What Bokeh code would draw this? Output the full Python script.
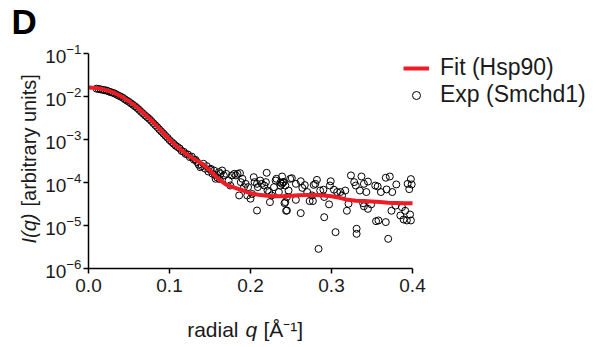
import numpy as np
from bokeh.plotting import figure
from bokeh.models import (FixedTicker, PrintfTickFormatter, LogTickFormatter, Legend,
                          LegendItem, Label, ColumnDataSource, LinearAxis, LogAxis)
from bokeh.embed import file_html
from bokeh.resources import INLINE

# ---- data ----
fit_q = [0.0, 0.01, 0.02, 0.03, 0.04, 0.05, 0.06, 0.07, 0.08, 0.09, 0.10, 0.11, 0.12,
         0.13, 0.14, 0.15, 0.16, 0.17, 0.18, 0.19, 0.20, 0.21, 0.22, 0.23, 0.24, 0.25,
         0.26, 0.27, 0.28, 0.29, 0.30, 0.31, 0.32, 0.33, 0.34, 0.35, 0.36, 0.37, 0.38,
         0.39, 0.40]
fit_I = [0.0162, 0.0158, 0.0145, 0.0126, 0.0102, 0.00776, 0.00562, 0.0038, 0.00251,
         0.00158, 0.001, 6.6e-4, 4.7e-4, 3.55e-4, 2.75e-4, 1.9e-4, 1.23e-4, 8.9e-5,
         7.6e-5, 6.6e-5, 5.6e-5, 5.2e-5, 4.9e-5, 4.8e-5, 4.8e-5, 4.95e-5, 5.05e-5,
         5.15e-5, 5.15e-5, 5.0e-5, 4.8e-5, 4.4e-5, 3.95e-5, 3.75e-5, 3.7e-5, 3.6e-5,
         3.5e-5, 3.4e-5, 3.35e-5, 3.3e-5, 3.3e-5]

exp_q_low = [0.010, 0.0125, 0.015, 0.0175, 0.020, 0.0225, 0.025, 0.0275, 0.030, 0.0325,
             0.035, 0.0375, 0.040, 0.0425, 0.045, 0.0475, 0.050, 0.0525, 0.055, 0.0575,
             0.060, 0.0625, 0.065, 0.0675, 0.070, 0.0725, 0.075, 0.0775, 0.080, 0.0825,
             0.085, 0.0875, 0.090, 0.0925, 0.095, 0.0975, 0.100, 0.1025, 0.105, 0.1075,
             0.110, 0.1125, 0.115, 0.1175, 0.120, 0.1225, 0.125, 0.1275, 0.130, 0.134,
             0.136, 0.140, 0.144, 0.146, 0.148, 0.150, 0.153, 0.156, 0.159, 0.162]
exp_I_low = [0.0152, 0.0150, 0.0146, 0.0143, 0.0140, 0.0137, 0.0131, 0.0126, 0.0122,
             0.0117, 0.0110, 0.0104, 0.0099, 0.0093, 0.0086, 0.0080, 0.0075, 0.0069,
             0.0064, 0.0059, 0.0054, 0.0049, 0.0044, 0.0040, 0.0036, 0.0033, 0.0030,
             0.0027, 0.0024, 0.00215, 0.00193, 0.00171, 0.00153, 0.00137, 0.00122,
             0.00110, 0.00097, 0.00088, 0.00080, 0.00072, 0.00067, 0.00062, 0.00054,
             0.00052, 0.00046, 0.00045, 0.00039, 0.00040, 0.00034, 0.00030, 0.00026,
             0.00024, 0.00021, 0.00024, 0.00018, 0.00020, 0.00016, 0.00015, 0.00013,
             0.00012]

exp_q_mid = [0.132, 0.138, 0.142, 0.151, 0.155, 0.157, 0.161, 0.163, 0.165, 0.167,
             0.170, 0.173, 0.175, 0.177, 0.180, 0.182, 0.184, 0.187, 0.188, 0.190,
             0.192, 0.194, 0.197, 0.186, 0.196, 0.200, 0.202, 0.204, 0.205, 0.208,
             0.208, 0.209, 0.212, 0.214, 0.217, 0.219, 0.220, 0.221, 0.223, 0.224,
             0.226, 0.229, 0.231, 0.232, 0.235, 0.237, 0.239, 0.241, 0.243, 0.245,
             0.247, 0.249]
exp_I_mid = [3.37e-4, 2.27e-4, 2.72e-4, 2.08e-4, 1.90e-4, 1.22e-4, 1.74e-4, 1.59e-4,
             1.90e-4, 1.46e-4, 1.59e-4, 1.11e-4, 8.5e-5, 1.46e-4, 1.59e-4, 1.46e-4,
             1.59e-4, 1.65e-4, 1.02e-4, 1.22e-4, 7.8e-5, 9.3e-5, 7.8e-5, 5.0e-5, 5.0e-5,
             4.2e-5, 5.4e-5, 1.33e-4, 1.02e-4, 9.3e-5, 2.23e-5, 7.8e-5, 1.11e-4, 9.3e-5,
             8.5e-5, 1.02e-4, 1.68e-4, 6.5e-5, 6.0e-5, 3.5e-5, 5.0e-5, 7.8e-5, 1.11e-4,
             1.22e-4, 6.0e-5, 8.5e-5, 9.3e-5, 1.02e-4, 3.5e-5, 2.23e-5, 6.5e-5, 1.22e-4]

exp_q_high = [0.239, 0.240, 0.243, 0.251, 0.256, 0.262, 0.267, 0.264, 0.245, 0.242,
              0.244, 0.256, 0.262, 0.270, 0.276, 0.273, 0.277, 0.280, 0.282, 0.286,
              0.290, 0.291, 0.297, 0.299, 0.298, 0.303, 0.305, 0.307, 0.311, 0.313,
              0.317, 0.319, 0.321, 0.324, 0.328, 0.330, 0.331, 0.331, 0.335, 0.337,
              0.340, 0.345, 0.343, 0.339, 0.345, 0.349, 0.354, 0.357, 0.361, 0.355,
              0.358, 0.367, 0.367, 0.368, 0.370, 0.372, 0.375, 0.374, 0.379, 0.380,
              0.385, 0.387, 0.389, 0.391, 0.393, 0.394, 0.397, 0.399, 0.398, 0.284,
              0.278, 0.291, 0.340, 0.237, 0.398, 0.396]
exp_I_high = [1.38e-4, 1.02e-4, 8.5e-5, 1.26e-4, 9.3e-5, 1.07e-4, 8.7e-5, 7.5e-5, 4.6e-5,
              3.3e-5, 2.2e-5, 3.95e-5, 1.94e-5, 6.0e-5, 5.0e-5, 3.7e-5, 3.7e-5, 9.3e-5,
              1.15e-4, 6.5e-5, 6.8e-5, 1.56e-5, 3.1e-5, 1.07e-4, 8.5e-5, 6.8e-5, 7.0e-6,
              6.0e-5, 6.0e-5, 5.0e-5, 6.5e-5, 2.2e-5, 3.2e-5, 1.46e-4, 1.02e-4, 8.5e-5,
              8.4e-6, 6.4e-6, 6.5e-5, 1.38e-4, 9.3e-5, 1.05e-4, 6.0e-5, 3.3e-5, 2.44e-5,
              3.1e-5, 8.5e-5, 8.1e-5, 6.0e-5, 1.26e-5, 1.31e-5, 1.29e-4, 1.2e-5, 6.9e-5,
              4.9e-6, 1.38e-4, 6.0e-5, 2.2e-5, 2.9e-5, 9.0e-5, 1.71e-5, 2.67e-5, 1.38e-5,
              2.2e-5, 1.31e-5, 9.3e-5, 1.8e-5, 9.0e-5, 1.31e-5, 2.86e-6, 8.8e-5, 4.6e-5,
              2.8e-5, 1.0e-4, 1.2e-4, 7.0e-5]

x_ticks = [0.0, 0.1, 0.2, 0.3, 0.4]
y_ticks = [1e-6, 1e-5, 1e-4, 1e-3, 1e-2, 1e-1]

FONT = "Liberation Sans"
TXT = "#1a1a1a"

exp_src = ColumnDataSource(dict(q=exp_q_low + exp_q_mid + exp_q_high,
                                I=exp_I_low + exp_I_mid + exp_I_high))
fit_src = ColumnDataSource(dict(q=fit_q, I=fit_I))

# the frame covers the whole canvas, axes are pinned with fixed_location
W, H = 597, 347
X0, PX_PER_Q = 88, 810.0          # canvas pixel of q=0, pixels per unit q
Y_DEC, PX_PER_DEC = 268, 43.0     # canvas pixel of 1e-6, pixels per decade
x_range = ((0 - X0) / PX_PER_Q, (W - X0) / PX_PER_Q)
y_range = (10 ** (-6 - (H - Y_DEC) / PX_PER_DEC), 10 ** (-6 + Y_DEC / PX_PER_DEC))

p = figure(width=W, height=H, x_range=x_range, y_range=y_range,
           y_axis_type="log", x_axis_location=None, y_axis_location=None,
           output_backend="svg", toolbar_location=None, min_border=0)
p.outline_line_color = None
p.grid.visible = False
p.background_fill_color = "white"
p.border_fill_color = "white"

r_exp = p.scatter("q", "I", source=exp_src, marker="circle", size=7, fill_color=None,
                  line_color="black", line_width=1)
r_fit = p.line("q", "I", source=fit_src, line_color="#ee1c25", line_width=4)

xaxis = LinearAxis(fixed_location=y_ticks[0], bounds=(x_ticks[0], x_ticks[-1]),
                   ticker=FixedTicker(ticks=x_ticks),
                   formatter=PrintfTickFormatter(format="%.1f"))
yaxis = LogAxis(fixed_location=x_ticks[0], bounds=(y_ticks[0], y_ticks[-1]),
                ticker=FixedTicker(ticks=y_ticks), formatter=LogTickFormatter())
for ax in (xaxis, yaxis):
    ax.axis_line_width = 1.5
    ax.axis_line_color = "black"
    ax.major_tick_line_width = 1.5
    ax.major_tick_line_color = "black"
    ax.major_tick_in = 0
    ax.major_tick_out = 5
    ax.minor_tick_line_color = None
    ax.major_label_text_font = FONT
    ax.major_label_text_font_size = "19px"
    ax.major_label_text_color = TXT
xaxis.major_label_standoff = 5
yaxis.major_label_standoff = 2
p.add_layout(xaxis, "below")
p.add_layout(yaxis, "left")

lab = dict(x_units="screen", y_units="screen", text_font=FONT, text_font_size="21px",
           text_color=TXT, text_baseline="alphabetic")
p.add_layout(Label(x=238, y=18, text="radial", text_align="right", **lab))
p.add_layout(Label(x=245, y=18, text="q", text_align="left", text_font_style="italic", **lab))
p.add_layout(Label(x=263, y=18, text="[Å⁻¹]", text_align="left", **lab))

ylab = dict(lab, text_font_size="20px")
p.add_layout(Label(x=28, y=104, angle=np.pi / 2, text="I(q)", text_align="left",
                   text_font_style="italic", **ylab))
p.add_layout(Label(x=28, y=141, angle=np.pi / 2, text="[arbitrary units]",
                   text_align="left", **ylab))

p.add_layout(Label(x=11, y=326, text="D", text_align="left", text_font_style="bold",
                   x_units="screen", y_units="screen", text_font=FONT,
                   text_font_size="35px", text_color="black", text_baseline="alphabetic"))

legend = Legend(items=[LegendItem(label="Fit (Hsp90)", renderers=[r_fit]),
                       LegendItem(label="Exp (Smchd1)", renderers=[r_exp])],
                location=(403, 239))
legend.label_text_font = FONT
legend.label_text_font_size = "23px"
legend.label_text_color = TXT
legend.background_fill_alpha = 0
legend.border_line_color = None
legend.padding = 0
legend.margin = 0
legend.spacing = -4
legend.glyph_width = 26
legend.glyph_height = 20
legend.label_height = 20
legend.label_standoff = 11
p.add_layout(legend)

open("out.html", "w").write(file_html(p, INLINE))
